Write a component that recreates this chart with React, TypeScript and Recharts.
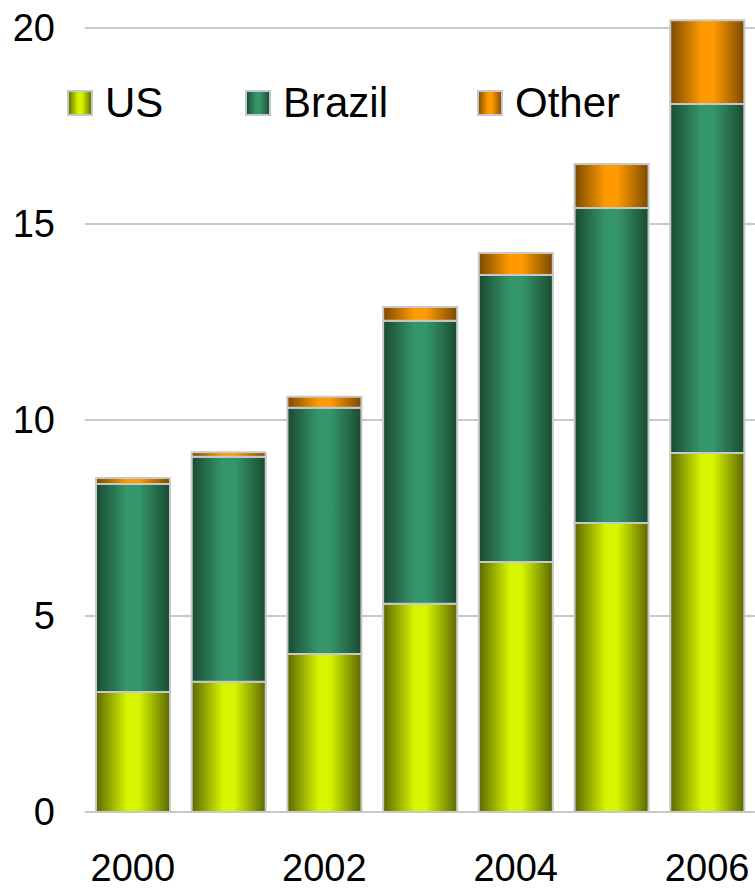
import React from 'react';
import { BarChart, Bar, XAxis, YAxis, CartesianGrid, Legend } from 'recharts';

const years = ['2000', '2001', '2002', '2003', '2004', '2005', '2006'];
const usValues = [3.06, 3.32, 4.03, 5.31, 6.38, 7.37, 9.16];
const brazilValues = [5.31, 5.74, 6.28, 7.22, 7.32, 8.04, 8.9];
const otherValues = [0.15, 0.12, 0.28, 0.35, 0.56, 1.12, 2.14];
const yTicks = [0, 5, 10, 15, 20];
const yMax = 20.5;

const seriesNames = ['US', 'Brazil', 'Other'];
const seriesKeys = ['us', 'brazil', 'other'];

const palette: Record<string, { dark: string; bright: string }> = {
  us: { dark: '#5c6800', bright: '#d6f500' },
  brazil: { dark: '#1a4a32', bright: '#36966b' },
  other: { dark: '#7c4a00', bright: '#ff9a00' },
};

const data = years.map((y, i) => ({
  year: y,
  us: usValues[i],
  brazil: brazilValues[i],
  other: otherValues[i],
}));

const FONT = '"Liberation Sans", Arial, sans-serif';
const legendX = [67, 245, 477];

const Grad = ({ id, k }: { id: string; k: string }) => (
  <linearGradient id={id} x1="0" y1="0" x2="1" y2="0">
    <stop offset="0" stopColor={palette[k].dark} />
    <stop offset="0.42" stopColor={palette[k].bright} />
    <stop offset="0.58" stopColor={palette[k].bright} />
    <stop offset="1" stopColor={palette[k].dark} />
  </linearGradient>
);

const renderLegend = () => (
  <div style={{ position: 'relative', width: 755, height: 40, fontFamily: FONT }}>
    {seriesKeys.map((k, i) => (
      <div
        key={k}
        style={{
          position: 'absolute',
          left: legendX[i],
          top: 0,
          height: 40,
          display: 'flex',
          alignItems: 'center',
        }}
      >
        <svg width={26} height={26} style={{ display: 'block' }}>
          <defs>
            <Grad id={`lg-${k}`} k={k} />
          </defs>
          <rect x={1} y={1} width={24} height={24} fill={`url(#lg-${k})`} stroke="#c8c8c8" strokeWidth={2} />
        </svg>
        <span style={{ marginLeft: 12, fontSize: 42, color: '#000', whiteSpace: 'nowrap' }}>{seriesNames[i]}</span>
      </div>
    ))}
  </div>
);

const gridGenerator = (props: any) => {
  const yAxis = props && props.yAxis;
  if (yAxis && typeof yAxis.scale === 'function') {
    return yTicks.map((t) => yAxis.scale(t));
  }
  const off = props.offset;
  return yTicks.map((t) => off.top + off.height * (1 - t / yMax));
};

export default function App() {
  return (
    <div style={{ position: 'absolute', left: 0, top: 0 }}>
      <BarChart
        width={755}
        height={889}
        data={data}
        margin={{ top: 8.4, right: 0, bottom: 0, left: 0 }}
      >
        <defs>
          {seriesKeys.map((k) => (
            <Grad key={k} id={`bg-${k}`} k={k} />
          ))}
        </defs>
        <CartesianGrid
          vertical={false}
          stroke="#c8c8c8"
          strokeWidth={2}
          horizontalCoordinatesGenerator={gridGenerator}
        />
        <XAxis
          dataKey="year"
          interval={1}
          tickLine={false}
          axisLine={false}
          tickSize={0}
          tickMargin={42}
          height={77}
          tick={{ fontSize: 38, fill: '#000', fontFamily: FONT }}
        />
        <YAxis
          domain={[0, yMax]}
          ticks={yTicks}
          width={85}
          tickLine={false}
          axisLine={false}
          tickSize={0}
          tickMargin={30}
          tick={{ fontSize: 38, fill: '#000', fontFamily: FONT }}
        />
        <Legend
          verticalAlign="middle"
          layout="horizontal"
          content={renderLegend}
          wrapperStyle={{ top: 82.5, left: 0, width: 755 }}
        />
        {seriesKeys.map((k, i) => (
          <Bar
            key={k}
            dataKey={k}
            name={seriesNames[i]}
            stackId="a"
            fill={`url(#bg-${k})`}
            stroke="#c8c8c8"
            strokeWidth={2}
            barSize={74}
            isAnimationActive={false}
          />
        ))}
      </BarChart>
    </div>
  );
}
